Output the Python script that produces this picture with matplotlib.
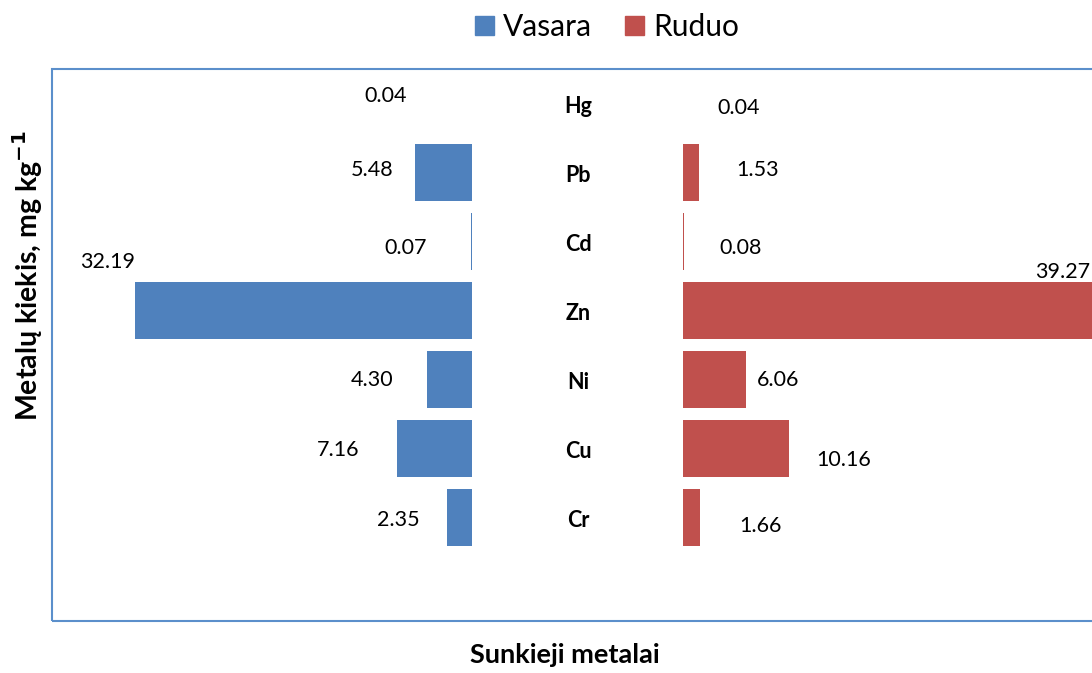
import matplotlib.pyplot as plt
import matplotlib.transforms as mtransforms
from matplotlib.patches import Patch, Rectangle

plt.rcParams['font.family'] = ['Lato', 'DejaVu Sans']

# duomenys
metalai = ['Hg', 'Pb', 'Cd', 'Zn', 'Ni', 'Cu', 'Cr']
vasara = [0.04, 5.48, 0.07, 32.19, 4.30, 7.16, 2.35]
ruduo = [0.04, 1.53, 0.08, 39.27, 6.06, 10.16, 1.66]

c_vas = '#4F81BD'
c_rud = '#C0504D'

# etikeciu poslinkiai pikseliais (rankiniu budu kaip Excel)
off_vas = [(-86, 7), (-43, 3), (-66, -7), (-27, 48), (-55, 0), (-59, -2), (-49, -3)]
off_rud = [(55, -4), (59, 3), (57, -7), (-31, 39), (32, 0), (54, -12), (60, -8)]

W, H = 1092, 673
fig = plt.figure(figsize=(W / 100, H / 100), dpi=100)

bot = (H - 621) / H
hgt = (621 - 69) / H
px = 10.47  # pikseliai vienam vienetui

axL = fig.add_axes([52 / W, bot, 420 / W, hgt])
axR = fig.add_axes([683 / W, bot, 409 / W, hgt])

ypos = list(range(len(metalai)))
axL.barh(ypos, vasara, height=0.84, color=c_vas)
axR.barh(ypos, ruduo, height=0.84, color=c_rud)

axL.set_xlim(420 / px, 0)
axR.set_xlim(0, 409 / px)
for ax in (axL, axR):
    ax.set_ylim(7.5, -0.5)
    ax.axis('off')

for i, v in enumerate(vasara):
    axL.annotate(f'{v:.2f}', xy=(v, i), xytext=off_vas[i], textcoords='offset pixels',
                 ha='center', va='center', fontsize=15.5, annotation_clip=False)
for i, v in enumerate(ruduo):
    axR.annotate(f'{v:.2f}', xy=(v, i), xytext=off_rud[i], textcoords='offset pixels',
                 ha='center', va='center', fontsize=15.5, annotation_clip=False)

tr = mtransforms.blended_transform_factory(fig.transFigure, axL.transData)
for i, m in enumerate(metalai):
    fig.text(578 / W, i + 0.05, m, transform=tr, ha='center', va='center',
             fontsize=15.5, fontweight='bold')

# remelis aplink braizymo sriti
fig.patches.append(Rectangle((52 / W, bot), 1.0, hgt, transform=fig.transFigure,
                             fill=False, edgecolor='#5B8FCB', linewidth=1.5))

fig.legend(handles=[Patch(color=c_vas, label='Vasara'), Patch(color=c_rud, label='Ruduo')],
           loc='center', bbox_to_anchor=(607 / W, 1 - 27 / H), ncol=2, frameon=False,
           fontsize=21.5, handlelength=0.65, handleheight=0.65, handletextpad=0.3,
           columnspacing=1.1)

fig.text(28 / W, 1 - 275 / H, 'Metalų kiekis, mg kg$^{\\mathbf{-1}}$', rotation=90,
         ha='center', va='center', fontsize=20.5, fontweight='bold')
fig.text(565 / W, 1 - 655 / H, 'Sunkieji metalai', ha='center', va='center',
         fontsize=19.5, fontweight='bold')

fig.savefig('out.png', dpi=100)
